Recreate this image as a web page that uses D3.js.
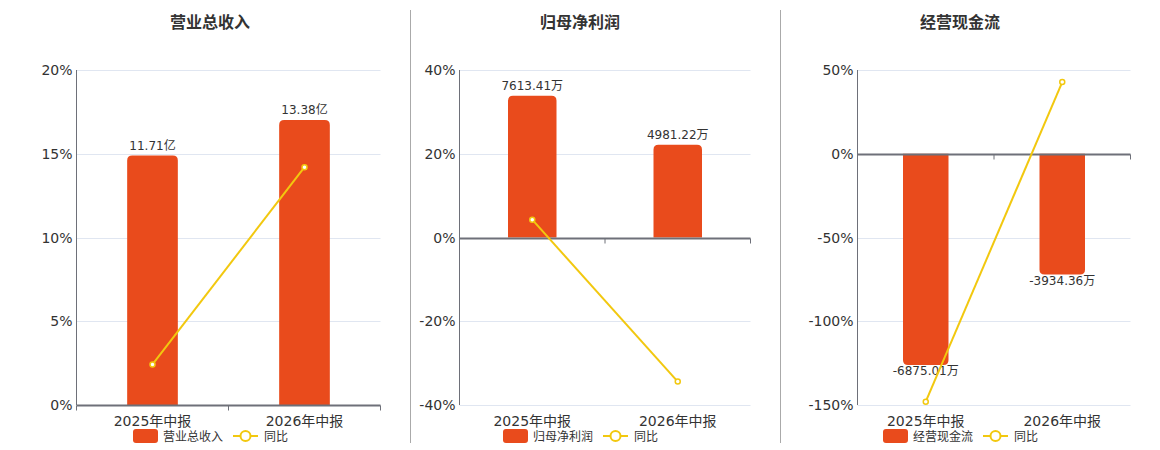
<!DOCTYPE html>
<html>
<head>
<meta charset="utf-8">
<script src="https://cdn.jsdelivr.net/npm/d3@7/dist/d3.min.js"></script>
<style>
  body { margin: 0; background: #fff; }
  text { font-family: "DejaVu Sans", "Noto Sans CJK SC", sans-serif; }
</style>
</head>
<body>
<div id="chart"></div>
<script>
// data
const categories = ["2025年中报", "2026年中报"];

const revenue = [11.71, 13.38];          // 亿
const revenueYoy = [2.42, 14.2];          // %
const profit = [7613.41, 4981.22];        // 万
const profitYoy = [4.25, -34.4];
const cash = [-6875.01, -3934.36];        // 万
const cashYoy = [-148, 42.8];

const revenueTicks = [0, 5, 10, 15, 20];
const profitTicks = [-40, -20, 0, 20, 40];
const cashTicks = [-150, -100, -50, 0, 50];

const width = 1160, height = 450;
const plotTop = 70, plotBottom = 405;
const barColor = "#e94b1c";
const lineColor = "#f2c80f";

const panels = [
  {title: "营业总收入", name: "营业总收入", bars: revenue, yoy: revenueYoy, ticks: revenueTicks,
   unit: "亿", barDomain: [0, 15.73], x0: 76.5, x1: 380.5, cx: 210},
  {title: "归母净利润", name: "归母净利润", bars: profit, yoy: profitYoy, ticks: profitTicks,
   unit: "万", barDomain: [-9000, 9000], x0: 459.5, x1: 750.5, cx: 580},
  {title: "经营现金流", name: "经营现金流", bars: cash, yoy: cashYoy, ticks: cashTicks,
   unit: "万", barDomain: [-8180, 2727], x0: 857.5, x1: 1130.5, cx: 960}
];

const svg = d3.select("#chart")
  .append("svg")
  .attr("width", width)
  .attr("height", height);

// dividers
[410.5, 780.5].forEach(function(x) {
  svg.append("line")
    .attr("x1", x).attr("x2", x)
    .attr("y1", 10).attr("y2", 443)
    .attr("stroke", "#aaa")
    .attr("stroke-width", 1);
});

// rounded-top (or bottom) bar path
function barPath(x, w, yBase, yEnd, r) {
  if (yEnd < yBase) {
    return `M${x},${yBase}V${yEnd + r}Q${x},${yEnd} ${x + r},${yEnd}H${x + w - r}Q${x + w},${yEnd} ${x + w},${yEnd + r}V${yBase}Z`;
  }
  return `M${x},${yBase}V${yEnd - r}Q${x},${yEnd} ${x + r},${yEnd}H${x + w - r}Q${x + w},${yEnd} ${x + w},${yEnd - r}V${yBase}Z`;
}

panels.forEach(function(p) {
  const g = svg.append("g");

  const xScale = d3.scaleBand()
    .domain(categories)
    .range([p.x0, p.x1]);

  const yScale = d3.scaleLinear()
    .domain([p.ticks[0], p.ticks[p.ticks.length - 1]])
    .range([plotBottom, plotTop]);

  const barScale = d3.scaleLinear()
    .domain(p.barDomain)
    .range([plotBottom, plotTop]);

  // title
  g.append("text")
    .attr("x", p.cx)
    .attr("y", 28)
    .attr("text-anchor", "middle")
    .attr("font-size", 16)
    .attr("font-weight", "bold")
    .attr("fill", "#333")
    .text(p.title);

  // grid
  g.selectAll(".grid")
    .data(p.ticks.filter(function(t) { return t !== 0; }))
    .enter()
    .append("line")
      .attr("x1", p.x0).attr("x2", p.x1)
      .attr("y1", function(d) { return Math.round(yScale(d)) + 0.5; })
      .attr("y2", function(d) { return Math.round(yScale(d)) + 0.5; })
      .attr("stroke", "#e0e6f1");

  // y tick labels
  g.selectAll(".ylab")
    .data(p.ticks)
    .enter()
    .append("text")
      .attr("x", p.x0 - 4)
      .attr("y", function(d) { return yScale(d) + 5; })
      .attr("text-anchor", "end")
      .attr("font-size", 14)
      .attr("fill", "#333")
      .text(function(d) { return d + "%"; });

  // bars
  const bw = xScale.bandwidth() / 3;
  const zeroY = barScale(0);
  g.selectAll(".bar")
    .data(p.bars)
    .enter()
    .append("path")
      .attr("d", function(d, i) {
        const x = xScale(categories[i]) + xScale.bandwidth() / 2 - bw / 2;
        return barPath(x, bw, zeroY, barScale(d), 5);
      })
      .attr("fill", barColor);

  // bar labels
  g.selectAll(".blab")
    .data(p.bars)
    .enter()
    .append("text")
      .attr("x", function(d, i) { return xScale(categories[i]) + xScale.bandwidth() / 2; })
      .attr("y", function(d) { return d >= 0 ? barScale(d) - 6 : barScale(d) + 10; })
      .attr("text-anchor", "middle")
      .attr("font-size", 12)
      .attr("fill", "#333")
      .text(function(d) { return d.toFixed(2) + p.unit; });

  // axes
  const axisY = Math.round(yScale(0)) + 0.5;
  g.append("line")
    .attr("x1", p.x0).attr("x2", p.x0)
    .attr("y1", plotTop).attr("y2", plotBottom)
    .attr("stroke", "#6e7079");
  g.append("line")
    .attr("x1", p.x0).attr("x2", p.x1)
    .attr("y1", axisY).attr("y2", axisY)
    .attr("stroke", "#6e7079")
    .attr("stroke-width", 2);
  g.selectAll(".xtick")
    .data([p.x0, xScale(categories[1]), p.x1])
    .enter()
    .append("line")
      .attr("x1", function(d) { return d; }).attr("x2", function(d) { return d; })
      .attr("y1", axisY).attr("y2", axisY + 5)
      .attr("stroke", "#6e7079");

  // x labels
  g.selectAll(".xlab")
    .data(categories)
    .enter()
    .append("text")
      .attr("x", function(d) { return xScale(d) + xScale.bandwidth() / 2; })
      .attr("y", 426)
      .attr("text-anchor", "middle")
      .attr("font-size", 14)
      .attr("fill", "#333")
      .text(function(d) { return d; });

  // yoy line
  const line = d3.line()
    .x(function(d, i) { return xScale(categories[i]) + xScale.bandwidth() / 2; })
    .y(function(d) { return yScale(d); });
  g.append("path")
    .datum(p.yoy)
    .attr("d", line)
    .attr("fill", "none")
    .attr("stroke", lineColor)
    .attr("stroke-width", 2);
  g.selectAll(".pt")
    .data(p.yoy)
    .enter()
    .append("circle")
      .attr("cx", function(d, i) { return xScale(categories[i]) + xScale.bandwidth() / 2; })
      .attr("cy", function(d) { return yScale(d); })
      .attr("r", 2.5)
      .attr("fill", "#fff")
      .attr("stroke", lineColor)
      .attr("stroke-width", 1.5);

  // legend
  const lx = p.cx - 77;
  g.append("rect")
    .attr("x", lx).attr("y", 429)
    .attr("width", 25).attr("height", 14)
    .attr("rx", 3)
    .attr("fill", barColor);
  g.append("text")
    .attr("x", lx + 30).attr("y", 440.5)
    .attr("font-size", 12)
    .attr("fill", "#333")
    .text(p.name);
  g.append("line")
    .attr("x1", lx + 100).attr("x2", lx + 125)
    .attr("y1", 436).attr("y2", 436)
    .attr("stroke", lineColor)
    .attr("stroke-width", 2);
  g.append("circle")
    .attr("cx", lx + 112.5).attr("cy", 436)
    .attr("r", 5)
    .attr("fill", "#fff")
    .attr("stroke", lineColor)
    .attr("stroke-width", 2);
  g.append("text")
    .attr("x", lx + 131).attr("y", 440.5)
    .attr("font-size", 12)
    .attr("fill", "#333")
    .text("同比");
});
</script>
</body>
</html>
